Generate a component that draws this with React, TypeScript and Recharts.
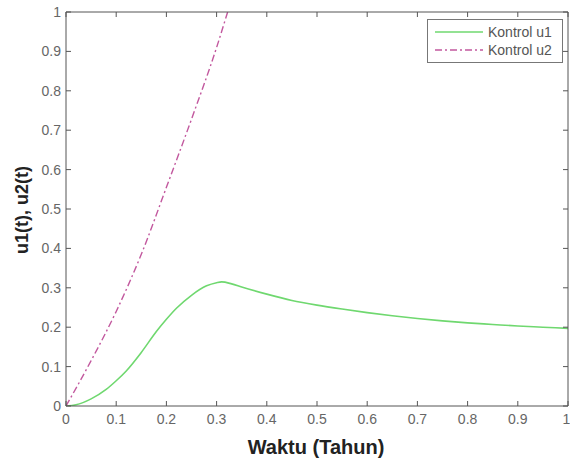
import React from "react";
import { LineChart, Line, XAxis, YAxis } from "recharts";

const xTicks = [0, 0.1, 0.2, 0.3, 0.4, 0.5, 0.6, 0.7, 0.8, 0.9, 1];
const yTicks = [0, 0.1, 0.2, 0.3, 0.4, 0.5, 0.6, 0.7, 0.8, 0.9, 1];

const u1Time = [0, 0.02, 0.05, 0.08, 0.1, 0.12, 0.15, 0.18, 0.2, 0.22, 0.25, 0.28, 0.3, 0.31, 0.33, 0.35, 0.4, 0.45, 0.5, 0.55, 0.6, 0.65, 0.7, 0.75, 0.8, 0.85, 0.9, 0.95, 1];
const u1Values = [0, 0.003, 0.018, 0.042, 0.064, 0.089, 0.136, 0.189, 0.22, 0.248, 0.281, 0.305, 0.313, 0.315, 0.31, 0.302, 0.284, 0.268, 0.256, 0.246, 0.237, 0.229, 0.222, 0.216, 0.211, 0.207, 0.203, 0.2, 0.197];

const u2Time = [0, 0.05, 0.1, 0.15, 0.2, 0.25, 0.3, 0.322];
const u2Values = [0, 0.115, 0.24, 0.385, 0.555, 0.728, 0.91, 1.0];

const u1Data = u1Time.map((t, i) => ({ t, v: u1Values[i] }));
const u2Data = u2Time.map((t, i) => ({ t, v: u2Values[i] }));

const legendItems = [
  { label: "Kontrol u1", color: "#6fd86f", dash: "" },
  { label: "Kontrol u2", color: "#c2589e", dash: "7 3 2 3" },
];

const FONT = "'Liberation Sans', Arial, sans-serif";
const AXIS = "#555";
const tickStyle = { fill: "#666", fontSize: 14, fontFamily: FONT };

const fmt = (v: number) => (v === 0 || v === 1 ? String(v) : String(v));

export default function App() {
  return (
    <div style={{ position: "absolute", left: 0, top: 0, width: 570, height: 459, background: "#fff" }}>
      <LineChart width={570} height={459} margin={{ top: 0, right: 0, bottom: 0, left: 0 }}>
        <XAxis
          xAxisId="b"
          type="number"
          dataKey="t"
          domain={[0, 1]}
          ticks={xTicks}
          height={53}
          tickSize={-5}
          tickMargin={13}
          tickFormatter={fmt}
          stroke={AXIS}
          tick={tickStyle}
          allowDataOverflow
          label={{
            content: (p: any) => {
              const vb = p.viewBox || {};
              return (
                <text x={vb.x + vb.width / 2 - 1} y={454} textAnchor="middle" fontFamily={FONT} fontWeight="bold" fontSize={20} fill="#222">
                  Waktu (Tahun)
                </text>
              );
            },
          }}
        />
        <XAxis
          xAxisId="t"
          orientation="top"
          type="number"
          dataKey="t"
          domain={[0, 1]}
          ticks={xTicks}
          height={12}
          tickSize={-5}
          tickFormatter={() => ""}
          stroke={AXIS}
          allowDataOverflow
        />
        <YAxis
          yAxisId="l"
          type="number"
          domain={[0, 1]}
          ticks={yTicks}
          width={66}
          tickSize={-5}
          tickMargin={10}
          tickFormatter={fmt}
          stroke={AXIS}
          tick={tickStyle}
          allowDataOverflow
          label={{
            content: (p: any) => {
              const vb = p.viewBox || {};
              const cy = vb.y + vb.height / 2 + 1;
              return (
                <text x={28} y={cy} transform={`rotate(-90 28 ${cy})`} textAnchor="middle" fontFamily={FONT} fontWeight="bold" fontSize={18} fill="#222">
                  u1(t), u2(t)
                </text>
              );
            },
          }}
        />
        <YAxis
          yAxisId="r"
          orientation="right"
          type="number"
          domain={[0, 1]}
          ticks={yTicks}
          width={2}
          tickSize={-5}
          tickFormatter={() => ""}
          stroke={AXIS}
          allowDataOverflow
        />
        <Line
          xAxisId="b"
          yAxisId="l"
          data={u1Data}
          dataKey="v"
          type="monotone"
          stroke="#6fd86f"
          strokeWidth={1.6}
          dot={false}
          isAnimationActive={false}
        />
        <Line
          xAxisId="b"
          yAxisId="l"
          data={u2Data}
          dataKey="v"
          type="monotone"
          stroke="#c2589e"
          strokeWidth={1.4}
          strokeDasharray="7 3 2 3"
          dot={false}
          isAnimationActive={false}
        />
      </LineChart>
      <div
        style={{
          position: "absolute",
          left: 427,
          top: 19,
          width: 136,
          height: 44,
          border: "1px solid #777",
          background: "#fff",
          boxSizing: "border-box",
          fontFamily: FONT,
          fontSize: 14,
          color: "#555",
          paddingTop: 3,
        }}
      >
        {legendItems.map((it) => (
          <div key={it.label} style={{ display: "flex", alignItems: "center", height: 18 }}>
            <svg width={60} height={10} style={{ display: "block" }}>
              <line x1={7} x2={55} y1={5} y2={5} stroke={it.color} strokeWidth={1.6} strokeDasharray={it.dash || undefined} />
            </svg>
            <span>{it.label}</span>
          </div>
        ))}
      </div>
    </div>
  );
}
